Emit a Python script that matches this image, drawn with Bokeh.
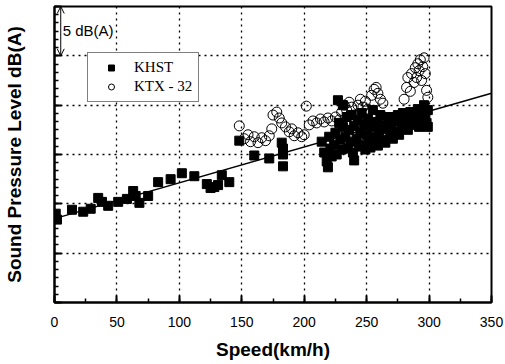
from bokeh.plotting import figure
from bokeh.models import (Range1d, SingleIntervalTicker, Legend, LegendItem, Arrow,
                          OpenHead, Label, ColumnDataSource)
from bokeh.embed import file_html
from bokeh.resources import INLINE

# ---------------- data ----------------
khst_speed = [1, 2, 14, 23, 29, 35, 38, 43, 51, 58, 63, 65, 68, 75, 83, 93, 102, 112,
              122, 125, 128, 131, 134, 140, 148, 160, 172, 182, 183, 183, 183,
              214, 216, 218, 219, 220, 221, 222,
              224, 225, 226, 227, 228, 229, 230, 231, 231,
              233, 234, 235, 236, 237, 238, 239, 240, 240,
              242, 243, 244, 245, 246, 247, 248, 249, 250,
              251, 252, 253, 254, 255, 256, 258, 259, 260,
              261, 262, 264, 265, 266, 268, 269, 270,
              271, 272, 274, 275, 276, 278, 279, 280,
              282, 283, 285, 286, 288, 290, 291, 292, 294, 295, 296, 297, 298, 299, 299]
khst_level = [69.0, 68.4, 69.4, 69.2, 69.5, 70.6, 70.2, 69.8, 70.2, 70.5, 71.3, 70.8, 70.1, 70.8,
              72.2, 72.5, 73.1, 72.8, 72.0, 71.6, 71.7, 71.9, 72.9, 72.2, 76.4, 74.9, 74.6,
              76.2, 75.6, 75.0, 73.8,
              76.3, 75.2, 74.3, 73.7, 76.8, 75.6, 74.8,
              76.0, 77.2, 75.0, 80.5, 78.2, 76.5, 75.5, 80.0, 77.8,
              76.8, 78.8, 75.6, 77.5, 76.3, 79.0, 75.2, 74.4, 77.9,
              76.6, 78.5, 75.8, 77.2, 79.2, 76.0, 78.0, 75.5, 77.0,
              78.6, 76.4, 75.7, 77.8, 79.5, 76.8, 78.3, 75.9, 77.4,
              79.0, 76.5, 78.0, 76.2, 77.6, 78.8, 76.9, 77.9,
              76.6, 78.4, 77.3, 79.0, 77.0, 78.2, 79.2, 77.6,
              78.6, 77.5, 79.3, 78.0, 79.0, 78.4, 79.6, 77.8, 79.2, 78.3, 80.0, 79.0, 78.2, 79.5, 77.8]

ktx_speed = [148, 152, 155, 157, 160, 163, 166, 169, 172, 174,
             175, 178, 180, 182, 185, 188, 190, 192, 195, 198, 200, 201.7,
             204, 207, 210, 213, 216, 219, 222, 225, 228,
             230, 232, 234, 236, 238, 240, 243, 245, 247, 249, 251,
             254, 256, 257.6, 259, 261, 263,
             280, 282, 283, 285, 286, 288, 289, 290, 291, 292, 293, 294, 295, 296, 297, 298, 299]
ktx_level = [77.9, 76.6, 77.0, 76.3, 76.8, 76.2, 76.7, 76.4, 76.9, 77.6,
             79.0, 79.3, 78.7, 78.2, 77.8, 77.3, 77.6, 76.9, 77.2, 76.8, 77.0, 79.9,
             78.0, 78.4, 78.2, 78.6, 78.3, 78.7, 78.4, 78.8, 78.5,
             79.3, 80.0, 79.5, 80.3, 79.8, 79.0, 80.0, 80.6, 79.8, 80.4, 79.6,
             81.0, 81.6, 81.8, 81.2, 80.6, 80.2,
             80.6, 81.8, 82.8, 81.4, 83.2, 82.3, 83.8, 82.8, 84.2, 83.5, 84.6, 82.5, 83.9, 84.8, 83.2, 81.5, 80.8]

fit_speed = [0, 350]
fit_level = [68.5, 81.2]

x_ticks_major = 50
y_ticks_major = 5
scale_bar_speed = 5
scale_bar_level = [85, 90]
scale_bar_text = "5 dB(A)"

# ---------------- figure ----------------
p = figure(width=505, height=364, output_backend="svg", toolbar_location=None,
           x_range=Range1d(0, 350), y_range=Range1d(60, 90),
           min_border_left=52, min_border_right=14, min_border_top=6, min_border_bottom=62)
p.background_fill_color = "white"
p.border_fill_color = "white"
p.outline_line_color = "black"
p.outline_line_width = 2

xt = SingleIntervalTicker(interval=x_ticks_major, num_minor_ticks=2)
yt = SingleIntervalTicker(interval=y_ticks_major, num_minor_ticks=6)
p.xaxis.ticker = xt
p.yaxis.ticker = yt
p.xgrid.ticker = xt
p.ygrid.ticker = yt

for g in (p.xgrid, p.ygrid):
    g.grid_line_color = "black"
    g.grid_line_dash = "2 4"
    g.grid_line_width = 1.3

for ax in (p.xaxis, p.yaxis):
    ax.axis_line_width = 2
    ax.axis_line_color = "black"
    ax.major_tick_in = 7
    ax.major_tick_out = 0
    ax.minor_tick_in = 4
    ax.minor_tick_out = 0
    ax.major_tick_line_width = 2
    ax.minor_tick_line_width = 1.5
    ax.major_tick_line_color = "black"
    ax.minor_tick_line_color = "black"
    ax.axis_label_text_font = "Liberation Sans"
    ax.axis_label_text_font_style = "bold"
    ax.axis_label_text_font_size = "19px"
    ax.axis_label_text_color = "black"

p.xaxis.axis_label = "Speed(km/h)"
p.xaxis.major_label_text_font = "Liberation Sans"
p.xaxis.major_label_text_font_size = "14px"
p.xaxis.major_label_text_color = "black"
p.xaxis.major_label_standoff = 14
p.xaxis.axis_label_standoff = 9

p.yaxis.axis_label = "Sound Pressure Level dB(A)"
p.yaxis.major_label_overrides = {v: "" for v in range(60, 91, 5)}
p.yaxis.major_label_standoff = 0
p.yaxis.axis_label_standoff = 30

# fitted line
p.line(fit_speed, fit_level, line_color="black", line_width=1.5)

src_k = ColumnDataSource(dict(x=khst_speed, y=khst_level))
src_t = ColumnDataSource(dict(x=ktx_speed, y=ktx_level))
rk = p.scatter("x", "y", source=src_k, marker="square", size=9,
               fill_color="black", line_color="black")
rt = p.scatter("x", "y", source=src_t, marker="circle", size=10,
               fill_alpha=0, line_color="black", line_width=1)

legend = Legend(items=[LegendItem(label="KHST", renderers=[rk]),
                       LegendItem(label="KTX - 32", renderers=[rt])],
                location=(33, 200))
legend.label_text_font = "Liberation Serif"
legend.label_text_font_size = "15px"
legend.label_text_color = "black"
legend.border_line_color = "black"
legend.border_line_width = 1
legend.background_fill_color = "white"
legend.background_fill_alpha = 1
legend.padding = 6
legend.spacing = 2
legend.glyph_width = 34
legend.glyph_height = 15
legend.label_standoff = 6
legend.label_height = 15
legend.margin = 0
p.add_layout(legend, "center")

arrow = Arrow(start=OpenHead(size=7, line_width=1), end=OpenHead(size=7, line_width=1),
              x_start=scale_bar_speed, y_start=scale_bar_level[0],
              x_end=scale_bar_speed, y_end=scale_bar_level[1], line_width=1)
p.add_layout(arrow)
p.add_layout(Label(x=scale_bar_speed + 1.6, y=(scale_bar_level[0] + scale_bar_level[1]) / 2 + 0.05,
                   text=scale_bar_text, text_baseline="middle",
                   text_font="Liberation Sans", text_font_size="15px", text_color="black"))

open("out.html", "w").write(file_html(p, INLINE))
